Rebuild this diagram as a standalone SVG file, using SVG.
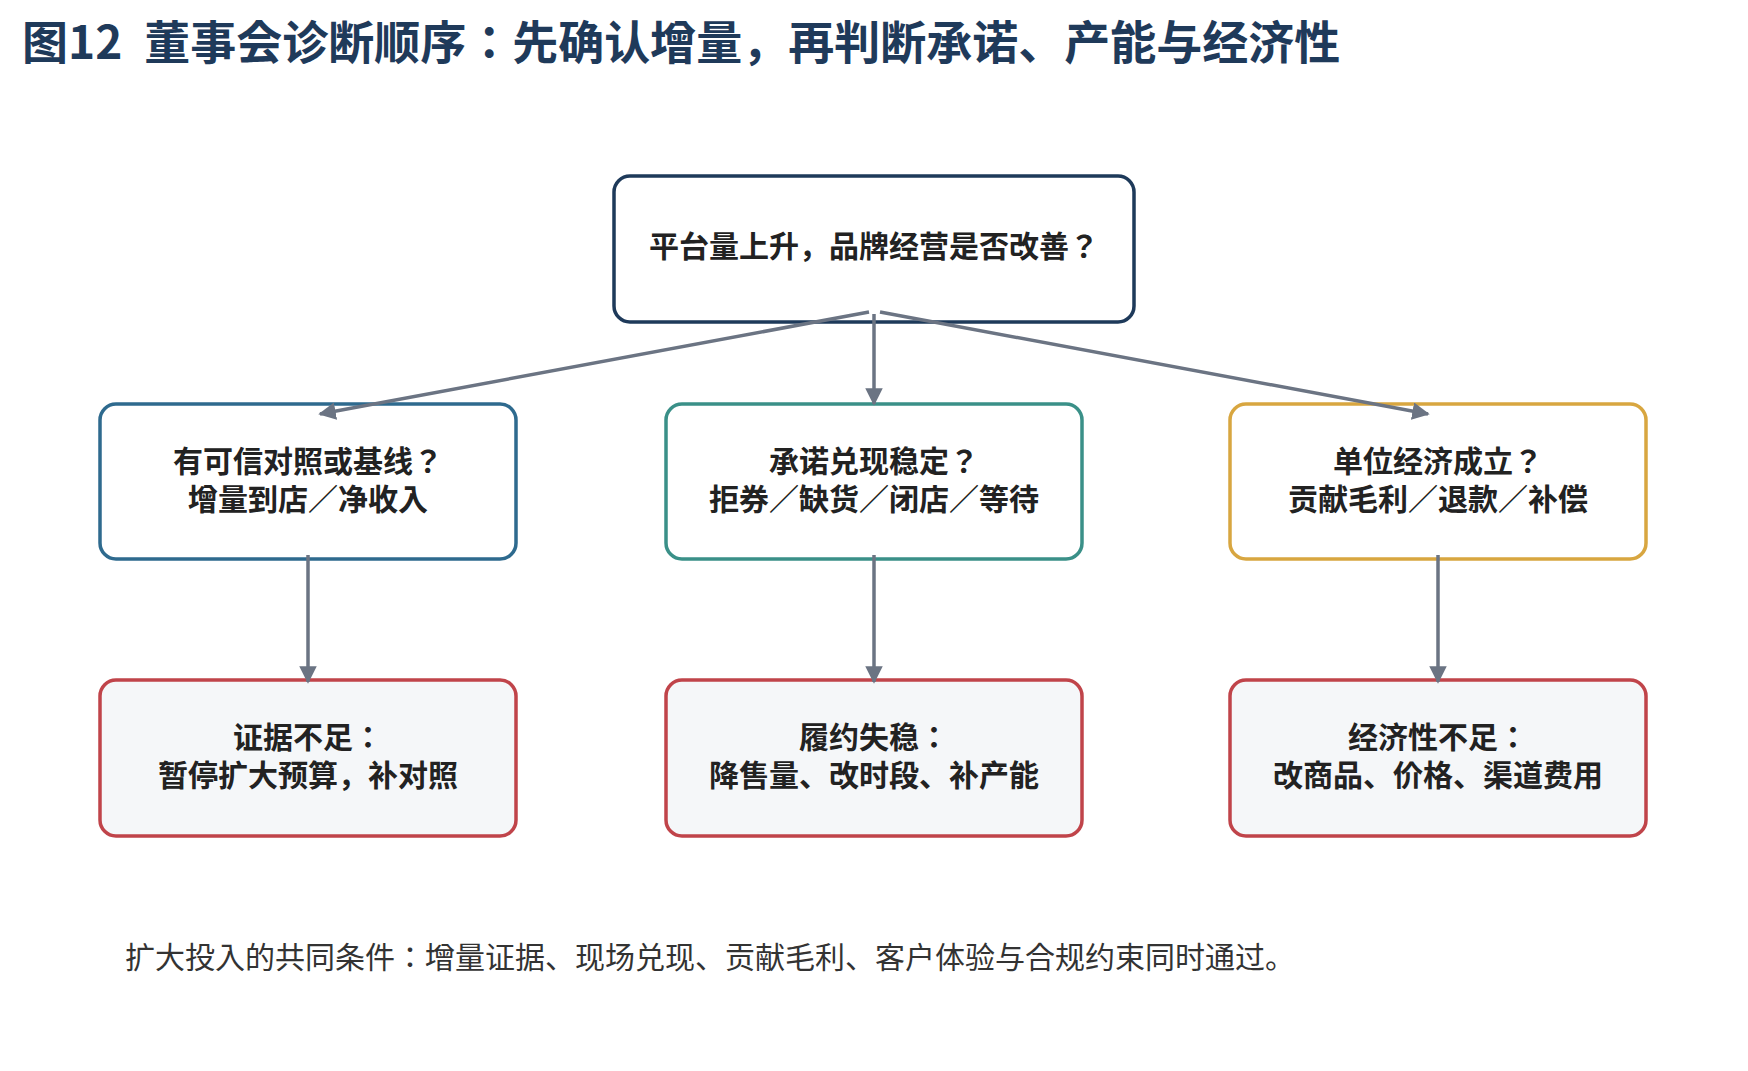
<svg xmlns="http://www.w3.org/2000/svg" width="1748" height="1071" viewBox="0 0 1748 1071">
<style>
text{font-family:"Noto Sans CJK JP","Noto Sans CJK SC",sans-serif;}
.t{font-size:46px;font-weight:700;fill:#1f3a5a;}
.n{font-size:30px;font-weight:700;fill:#222;text-anchor:middle;}
.f{font-size:30px;fill:#333;}
.b{fill:#fff;stroke-width:3.5;}
.r{fill:#f5f7f9;stroke:#c0444a;stroke-width:3.5;}
.c line{stroke:#6b7483;stroke-width:3.5;}
</style>
<defs><marker id="a" viewBox="0 0 10 10" refX="9" refY="5" markerWidth="5" markerHeight="5" orient="auto"><path d="M0,0L10,5L0,10z" fill="#6b7483"/></marker></defs>
<rect width="1748" height="1071" fill="#fff"/>
<text class="t" x="22" y="59">图12<tspan dx="22">董事会诊断顺序：先确认增量，再判断承诺、产能与经济性</tspan></text>
<g transform="translate(-4,0)">
<g id="top"><rect class="b" x="618" y="176" width="520" height="146" rx="16" stroke="#1e3a5a"/><text class="n" x="878" y="257">平台量上升，品牌经营是否改善？</text></g>
<g id="m1"><rect class="b" x="104" y="404" width="416" height="155" rx="16" stroke="#2e6a8e"/><text class="n" x="312" y="472">有可信对照或基线？</text><text class="n" x="312" y="510">增量到店／净收入</text></g>
<g id="m2"><rect class="b" x="670" y="404" width="416" height="155" rx="16" stroke="#3a9088"/><text class="n" x="878" y="472">承诺兑现稳定？</text><text class="n" x="878" y="510">拒券／缺货／闭店／等待</text></g>
<g id="m3"><rect class="b" x="1234" y="404" width="416" height="155" rx="16" stroke="#d8a640"/><text class="n" x="1442" y="472">单位经济成立？</text><text class="n" x="1442" y="510">贡献毛利／退款／补偿</text></g>
<g id="b1"><rect class="r" x="104" y="680" width="416" height="156" rx="16"/><text class="n" x="312" y="748">证据不足：</text><text class="n" x="312" y="786">暂停扩大预算，补对照</text></g>
<g id="b2"><rect class="r" x="670" y="680" width="416" height="156" rx="16"/><text class="n" x="878" y="748">履约失稳：</text><text class="n" x="878" y="786">降售量、改时段、补产能</text></g>
<g id="b3"><rect class="r" x="1234" y="680" width="416" height="156" rx="16"/><text class="n" x="1442" y="748">经济性不足：</text><text class="n" x="1442" y="786">改商品、价格、渠道费用</text></g>
<g class="c">
<line x1="873" y1="312" x2="324" y2="414" marker-end="url(#a)"/>
<line x1="878" y1="314" x2="878" y2="404" marker-end="url(#a)"/>
<line x1="884" y1="312" x2="1432" y2="414" marker-end="url(#a)"/>
<line x1="312" y1="555" x2="312" y2="682" marker-end="url(#a)"/>
<line x1="878" y1="555" x2="878" y2="682" marker-end="url(#a)"/>
<line x1="1442" y1="555" x2="1442" y2="682" marker-end="url(#a)"/>
</g>
</g>
<text class="f" x="125" y="968">扩大投入的共同条件：增量证据、现场兑现、贡献毛利、客户体验与合规约束同时通过。</text>
</svg>
